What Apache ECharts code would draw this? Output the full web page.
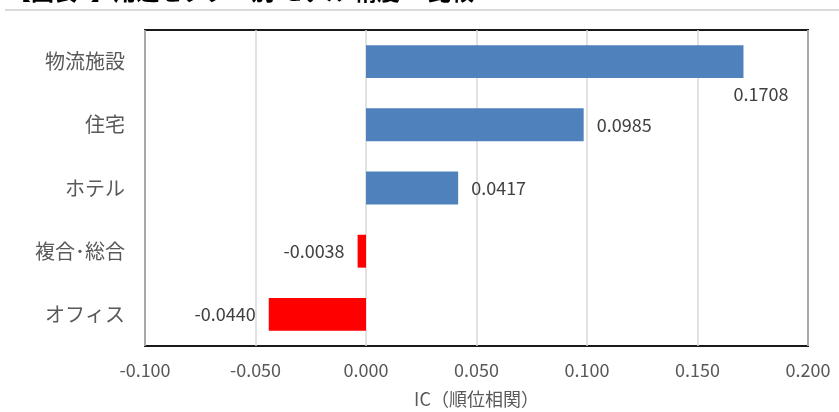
<!DOCTYPE html>
<html>
<head>
<meta charset="utf-8">
<script src="https://cdn.jsdelivr.net/npm/echarts@6/dist/echarts.min.js"></script>
<style>
  html, body { margin: 0; padding: 0; background: #fff; }
  #chart { width: 839px; height: 412px; }
</style>
</head>
<body>
<div id="chart"></div>
<script>
var categories = ["物流施設", "住宅", "ホテル", "複合･総合", "オフィス"];
var icValues = [0.1708, 0.0985, 0.0417, -0.0038, -0.0440];
var axisMin = -0.1, axisMax = 0.2, axisStep = 0.05;

var FONT = "'Noto Sans CJK JP', 'Noto Sans', sans-serif";
var chart = echarts.init(document.getElementById("chart"));

var barData = icValues.map(function (v, i) {
    var item = {
        value: v,
        itemStyle: { color: v >= 0 ? "#4f81bd" : "#ff0000" },
        label: { position: v >= 0 ? "right" : "left" }
    };
    // 一番長いバーはラベルを右下に逃がす
    if (i === 0) {
        item.label = {
            position: ["100%", "100%"],
            align: "left",
            verticalAlign: "middle",
            offset: [-10, 16]
        };
    }
    return item;
});

chart.setOption({
    animation: false,
    textStyle: { fontFamily: FONT },
    graphic: [
        {
            type: "text",
            left: 8,
            top: -20,
            style: {
                text: "【図表7】用途セクター別 モデル 精度IC 比較",
                font: "bold 23px " + FONT,
                fill: "#000"
            }
        },
        {
            type: "rect",
            shape: { x: 5, y: 9, width: 834, height: 2 },
            style: { fill: "#d9d9d9" }
        }
    ],
    grid: {
        left: 145,
        right: 31,
        top: 30,
        bottom: 66,
        outerBoundsMode: "none",
        show: true,
        borderColor: "#1a1a1a",
        borderWidth: 2
    },
    xAxis: {
        type: "value",
        min: axisMin,
        max: axisMax,
        interval: axisStep,
        name: "IC（順位相関）",
        nameLocation: "middle",
        nameGap: 44,
        nameTextStyle: { fontSize: 18, color: "#595959", fontFamily: FONT },
        axisLine: { show: false },
        axisTick: { show: false },
        axisLabel: {
            fontSize: 18,
            color: "#595959",
            margin: 15,
            formatter: function (v) { return v.toFixed(3); }
        },
        splitLine: { lineStyle: { color: "#d9d9d9", width: 1.5 } }
    },
    yAxis: {
        type: "category",
        data: categories,
        inverse: true,
        axisLine: { show: false },
        axisTick: { show: false },
        axisLabel: { fontSize: 20, color: "#595959", margin: 20 }
    },
    series: [{
        type: "bar",
        data: barData,
        barWidth: "52%",
        label: {
            show: true,
            distance: 13,
            fontSize: 18,
            color: "#404040",
            formatter: function (p) { return p.value.toFixed(4); }
        }
    }]
});
</script>
</body>
</html>
